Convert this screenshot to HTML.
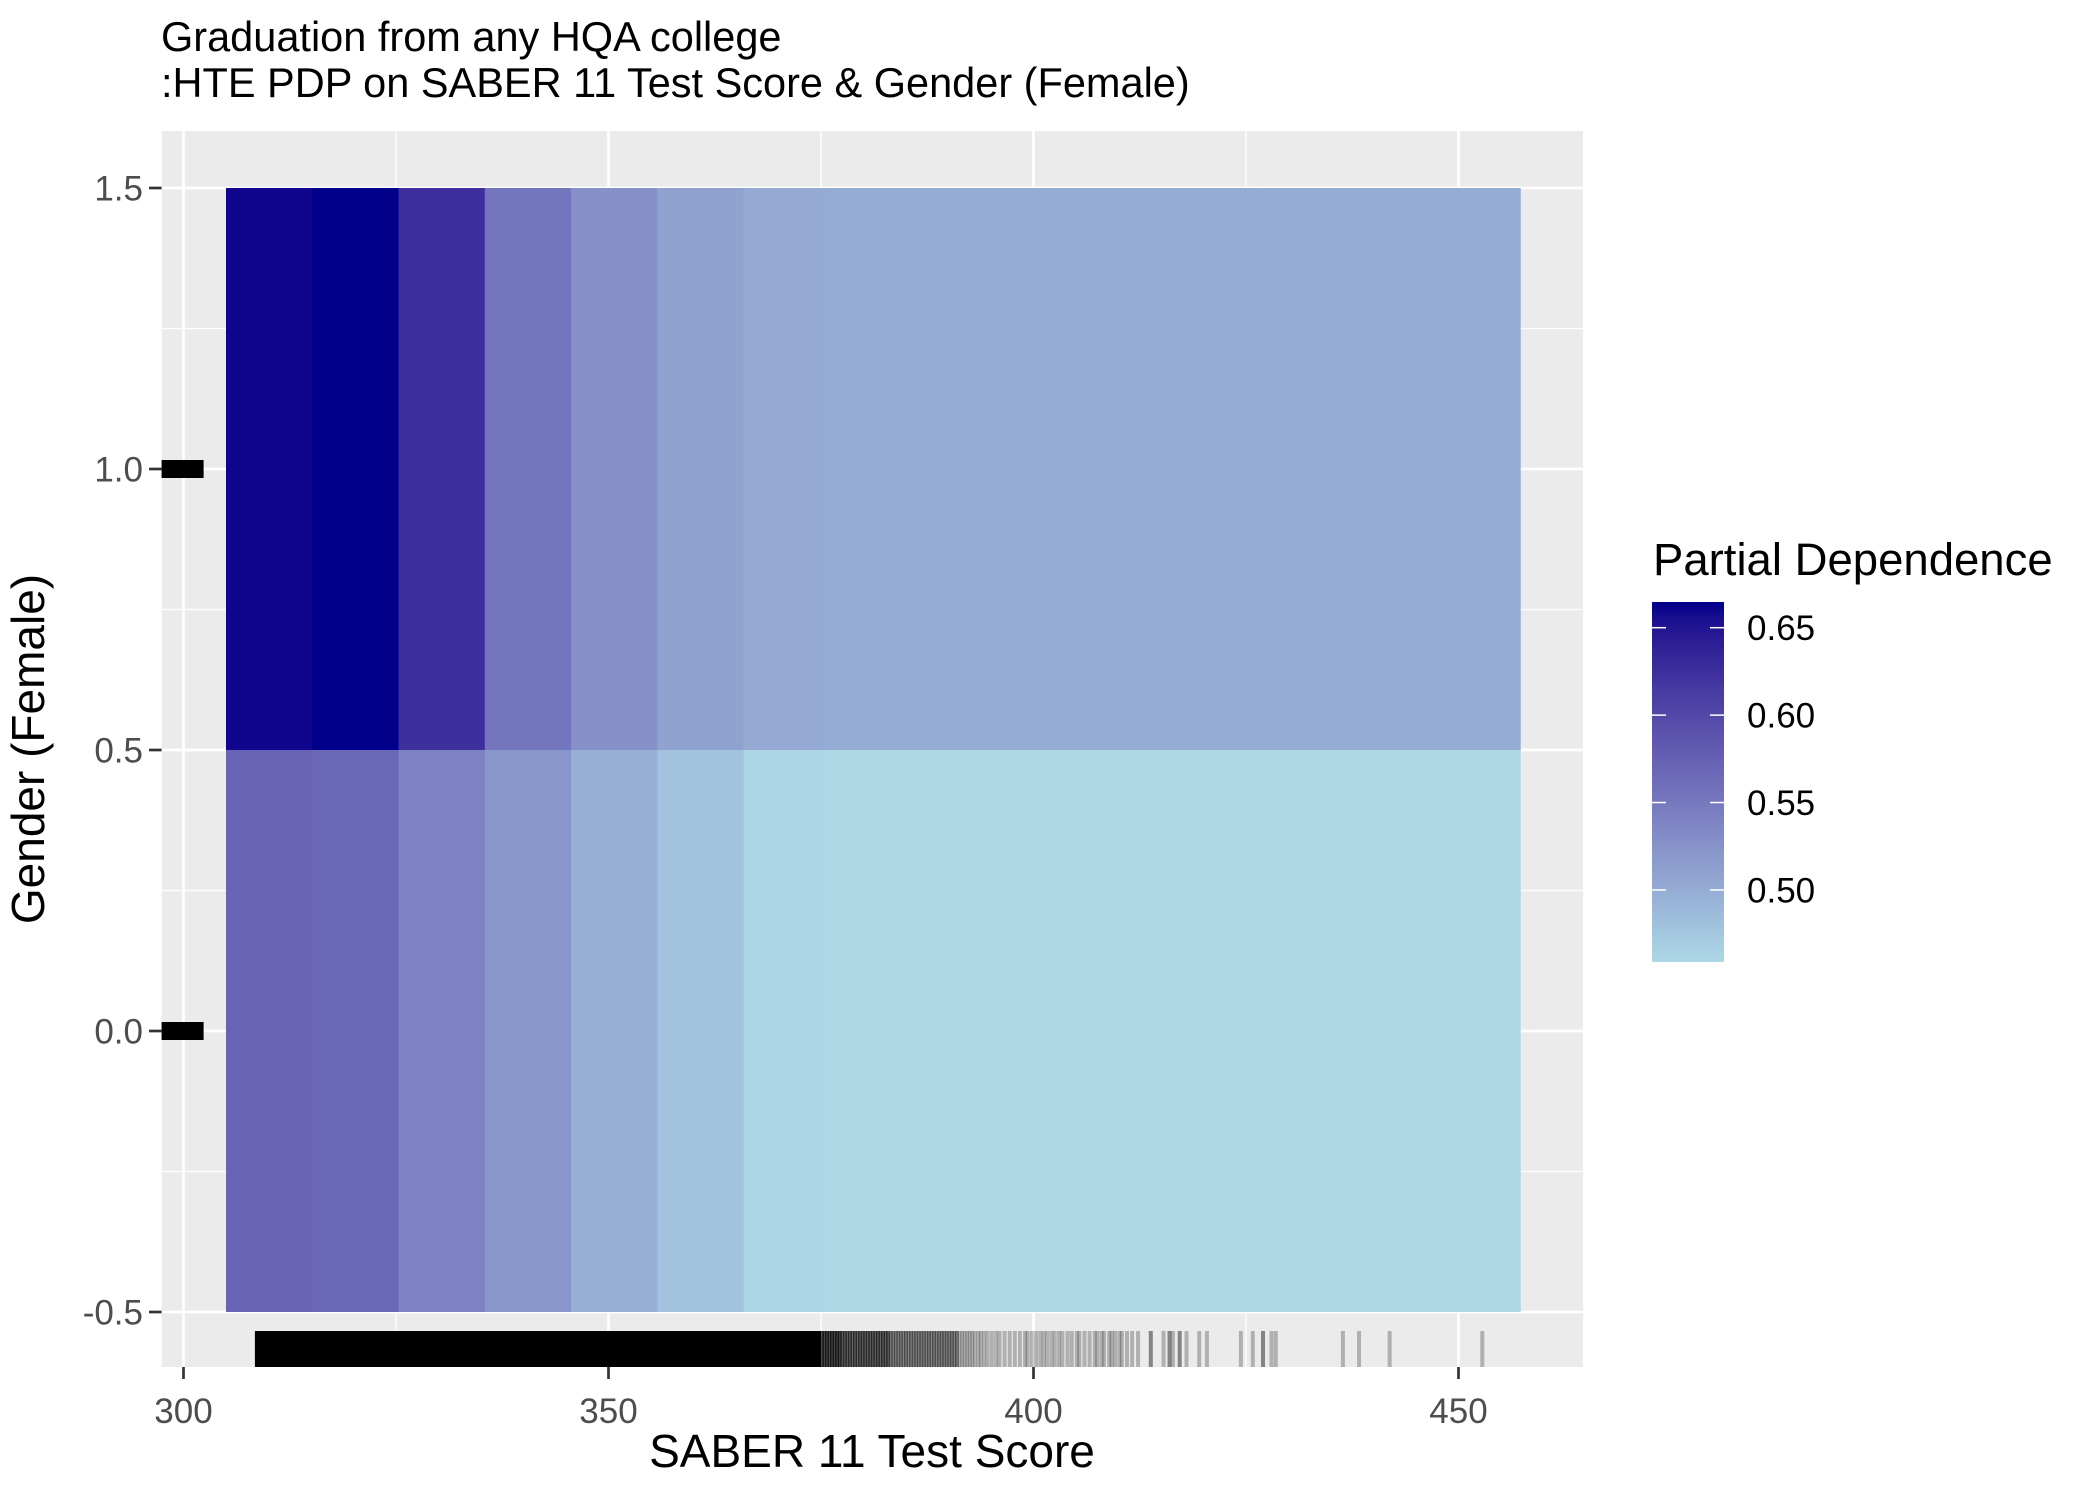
<!DOCTYPE html>
<html><head><meta charset="utf-8">
<style>
html,body{margin:0;padding:0;background:#fff;}
svg{display:block;font-family:"Liberation Sans",Arial,sans-serif;}
</style></head>
<body>
<svg id="chart" width="2100" height="1500" viewBox="0 0 2100 1500">
  <text x="161" y="51" font-size="41.5" fill="#000">Graduation from any HQA college</text>
  <text x="161" y="97" font-size="41.5" fill="#000">:HTE PDP on SABER 11 Test Score &amp; Gender (Female)</text>
  <rect x="161.6" y="131" width="1421.4" height="1236" fill="#ebebeb"/>
  <g id="grid"></g>
  <g id="tiles"></g>
  <g id="rug"></g>
  <g id="yrug"></g>
  <g id="axes"></g>
  <text x="872" y="1467" font-size="46" text-anchor="middle" fill="#000">SABER 11 Test Score</text>
  <text transform="translate(44,749) rotate(-90)" font-size="46" text-anchor="middle" fill="#000">Gender (Female)</text>
  <g id="legend">
    <text x="1653" y="575" font-size="45.5" fill="#000">Partial Dependence</text>
    <defs><linearGradient id="cbar" x1="0" y1="1" x2="0" y2="0"></linearGradient></defs>
    <rect x="1652" y="602" width="72" height="360" fill="url(#cbar)"/>
  </g>
</svg>
<script>
// ---- data ----
const xBreaks = [305.0,315.15,325.3,335.45,345.6,355.75,365.9,376.05,386.2,396.35,406.5,416.65,426.8,436.95,447.1,457.25];
const genderLevels = [0, 1];
const pdFemale = [0.660,0.6647,0.625,0.553,0.526,0.509,0.501,0.500,0.500,0.500,0.500,0.500,0.500,0.500,0.500];
const pdMale   = [0.572,0.567,0.541,0.521,0.498,0.479,0.4595,0.459,0.459,0.459,0.459,0.459,0.459,0.459,0.459];
const xTicks = [300,350,400,450];
const xTickLabels = ["300","350","400","450"];
const yTicks = [-0.5,0,0.5,1.0,1.5];
const yTickLabels = ["-0.5","0.0","0.5","1.0","1.5"];
const legendTicks = [0.50,0.55,0.60,0.65];
const legendTickLabels = ["0.50","0.55","0.60","0.65"];
const legendRange = [0.4588,0.6647];
const rugDenseRange = [308.4, 375];
const rugValues = [
375.1,375.1,375.1,375.1,375.4,375.4,375.4,375.4,375.7,375.7,375.7,375.7,376,376,376,376,376.3,376.3,376.3,376.3,376.6,376.6,376.6,376.6,376.9,376.9,376.9,376.9,377.2,377.2,377.2,377.2,
377.5,377.5,377.5,377.8,377.8,377.8,378.1,378.1,378.1,378.4,378.4,378.4,378.7,378.7,378.7,379,379,379,379.3,379.3,379.3,379.6,379.6,379.6,379.9,379.9,379.9,380.2,380.2,380.2,
380.5,380.5,380.5,380.8,380.8,380.8,381.1,381.1,381.1,381.4,381.4,381.4,381.7,381.7,381.7,382,382,382,382.3,382.3,382.3,382.6,382.6,382.6,382.9,382.9,382.9,
383.2,383.2,383.5,383.5,383.8,383.8,384.1,384.1,384.4,384.4,384.7,384.7,385,385,385.3,385.3,385.6,385.6,385.9,385.9,386.2,386.2,386.5,386.5,386.8,386.8,387.1,387.1,387.4,387.4,387.7,387.7,
388,388,388.3,388.3,388.6,388.6,388.9,388.9,389.2,389.2,389.5,389.5,389.8,389.8,390.1,390.1,390.4,390.4,390.7,390.7,391,391,391.3,391.6,391.9,392.2,392.5,392.8,393.1,393.5,393.8,394.2,394.6,
395.1,395.6,396,396.6,397.2,397.8,398.4,399,399.3,399.8,400.3,400.8,401.2,401.6,402.1,402.5,403,403.4,404,404.5,405.1,405.4,406,406.6,407.2,407.5,408,408.3,408.9,409.2,409.6,410.1,410.4,411,411.6,412.3,
413.8,413.8,415.3,416.0,416.0,416.4,417.2,417.2,418.0,419.5,420.4,424.4,425.8,427.0,427.0,428.0,428.5,436.4,438.3,441.9,452.8];
const yRugValues = [0, 1];

// ---- scales ----
const x = v => 183.5 + (v - 300) * 8.5;
const y = v => 1312 - (v + 0.5) * 562;
const NS = "http://www.w3.org/2000/svg";
function mk(tag, attrs, parent){const e=document.createElementNS(NS,tag);for(const k in attrs)e.setAttribute(k,attrs[k]);parent.appendChild(e);return e;}

function s2l(c){c/=255;return c<=0.04045?c/12.92:Math.pow((c+0.055)/1.055,2.4);}
function l2s(c){c=c<=0.0031308?12.92*c:1.055*Math.pow(c,1/2.4)-0.055;return Math.max(0,Math.min(255,Math.round(c*255)));}
function toLab(r,g,b){r=s2l(r);g=s2l(g);b=s2l(b);
 let X=(0.4124*r+0.3576*g+0.1805*b)/0.95047,Y=0.2126*r+0.7152*g+0.0722*b,Z=(0.0193*r+0.1192*g+0.9505*b)/1.08883;
 const f=t=>t>0.008856?Math.cbrt(t):7.787*t+16/116;X=f(X);Y=f(Y);Z=f(Z);return [116*Y-16,500*(X-Y),200*(Y-Z)];}
function fromLab(L,a,bb){let Y=(L+16)/116,X=a/500+Y,Z=Y-bb/200;
 const fi=t=>t*t*t>0.008856?t*t*t:(t-16/116)/7.787;X=fi(X)*0.95047;Y=fi(Y);Z=fi(Z)*1.08883;
 const r=3.2406*X-1.5372*Y-0.4986*Z,g=-0.9689*X+1.8758*Y+0.0415*Z,b=0.0557*X-0.2040*Y+1.0570*Z;
 return "rgb("+l2s(r)+","+l2s(g)+","+l2s(b)+")";}
const lowLab = toLab(173,216,230), highLab = toLab(0,0,139);
function color(v){let t=(v-legendRange[0])/(legendRange[1]-legendRange[0]);t=Math.max(0,Math.min(1,t));
 return fromLab(lowLab[0]+(highLab[0]-lowLab[0])*t,lowLab[1]+(highLab[1]-lowLab[1])*t,lowLab[2]+(highLab[2]-lowLab[2])*t);}

// ---- grid ----
const grid=document.getElementById('grid');
[325,375,425].forEach(v=>{const l=mk('line',{x1:x(v),x2:x(v),y1:131,y2:1367,stroke:'#fff','stroke-width':1.3},grid);
 
 });
[-0.25,0.25,0.75,1.25].forEach(v=>{const l=mk('line',{x1:161.6,x2:1583,y1:y(v),y2:y(v),stroke:'#fff','stroke-width':1.3},grid);
 
 });
xTicks.forEach(v=>{const l=mk('line',{x1:x(v),x2:x(v),y1:131,y2:1367,stroke:'#fff','stroke-width':2.7},grid);
 
 });
yTicks.forEach(v=>{const l=mk('line',{x1:161.6,x2:1583,y1:y(v),y2:y(v),stroke:'#fff','stroke-width':2.7},grid);
 
 });

// ---- tiles ----
const tiles=document.getElementById('tiles');
[pdMale,pdFemale].forEach((row,gi)=>{const g=genderLevels[gi];
 row.forEach((v,i)=>{const r=mk('rect',{x:x(xBreaks[i]),y:y(g+0.5),width:x(xBreaks[i+1])-x(xBreaks[i])+0.6,height:y(g-0.5)-y(g+0.5),fill:color(v)},tiles);
  
  });});

// ---- rug ----
const rug=document.getElementById('rug');
const dense=mk('rect',{x:x(rugDenseRange[0]),y:1331,width:x(rugDenseRange[1])-x(rugDenseRange[0]),height:36,fill:'#000'},rug);


rugValues.forEach(v=>{const l=mk('line',{x1:x(v),x2:x(v),y1:1331,y2:1367,stroke:'#000','stroke-width':4,'stroke-opacity':0.25},rug);
 
 });
const yrug=document.getElementById('yrug');
yRugValues.forEach(v=>{const r=mk('rect',{x:161.6,y:y(v)-9,width:42,height:18,fill:'#000'},yrug);
 
 });

// ---- axes ----
const axes=document.getElementById('axes');
xTicks.forEach((v,i)=>{const t=mk('line',{x1:x(v),x2:x(v),y1:1367,y2:1379,stroke:'#333','stroke-width':2.7},axes);
 
 
 const tx=mk('text',{x:x(v),y:1423,'font-size':35,fill:'#4d4d4d','text-anchor':'middle'},axes);tx.textContent=xTickLabels[i];
 
 });
yTicks.forEach((v,i)=>{const t=mk('line',{x1:149,x2:161.6,y1:y(v),y2:y(v),stroke:'#333','stroke-width':2.7},axes);
 
 
 const tx=mk('text',{x:143,y:y(v)+12.5,'font-size':35,fill:'#4d4d4d','text-anchor':'end'},axes);tx.textContent=yTickLabels[i];
 
 });

// ---- legend ----
const grad=document.getElementById('cbar');
for(let k=0;k<=20;k++){const v=legendRange[0]+(legendRange[1]-legendRange[0])*k/20;
 mk('stop',{offset:(k*5)+'%','stop-color':color(v)},grad);}
const leg=document.getElementById('legend');
const ly=v=>962-(v-legendRange[0])/(legendRange[1]-legendRange[0])*360;
legendTicks.forEach((v,i)=>{
 const a=mk('line',{x1:1652,x2:1666,y1:ly(v),y2:ly(v),stroke:'#fff','stroke-width':1.5},leg);
 
 
 const b=mk('line',{x1:1710,x2:1724,y1:ly(v),y2:ly(v),stroke:'#fff','stroke-width':1.5},leg);
 
 
 const t=mk('text',{x:1747,y:ly(v)+12.5,'font-size':35,fill:'#000'},leg);t.textContent=legendTickLabels[i];
 
 });
</script>
</body></html>
